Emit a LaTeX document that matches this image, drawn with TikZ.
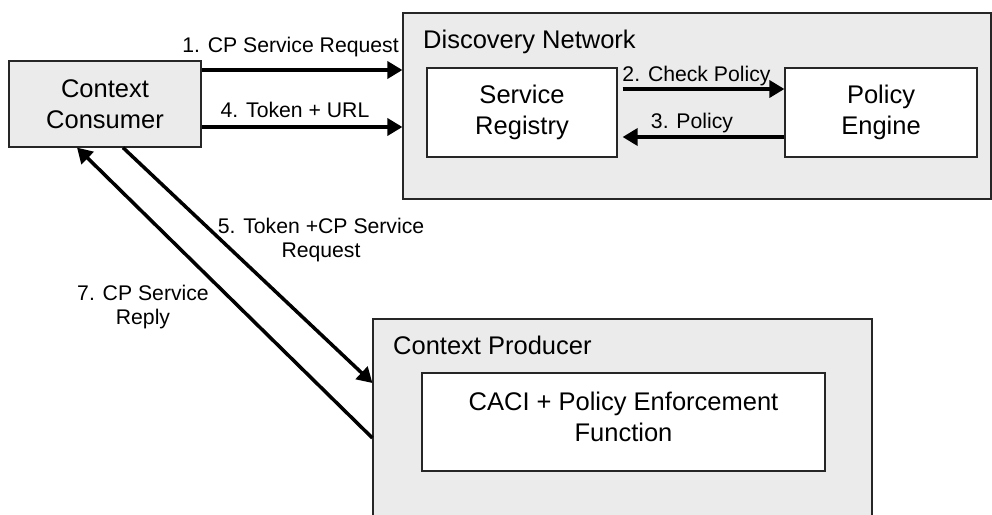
\documentclass[tikz,border=0pt]{standalone}
\usepackage{fontspec}
\setmainfont{Liberation Sans}
\usetikzlibrary{arrows.meta}
\definecolor{boxgray}{HTML}{EBEBEB}
\begin{document}
\begin{tikzpicture}[x=1pt,y=-1pt,
  graybox/.style={draw=black!85, line width=1.2pt, fill=boxgray, inner sep=0pt},
  whitebox/.style={draw=black!85, line width=1.2pt, fill=white, align=center, font=\fontsize{25.5}{30.5}\selectfont, inner sep=0pt},
  boxtext/.style={align=center, font=\fontsize{25.5}{30.5}\selectfont},
  lbl/.style={font=\fontsize{21.2}{24.5}\selectfont, align=center, inner sep=0pt},
  title/.style={font=\fontsize{25.5}{30.5}\selectfont, inner sep=0pt, anchor=base west},
  arr/.style={line width=3.5pt, -{Triangle[length=15pt,width=17pt]}},
]
\useasboundingbox (0,0) rectangle (992,514);

% containers
\node[graybox, minimum width=588pt, minimum height=186pt] (DN) at (697,106) {};
\node[title] (DNt) at (423,48) {Discovery Network};
\node[graybox, minimum width=499pt, minimum height=202pt] (CP) at (622.5,420) {};
\node[title] (CPt) at (393,354) {Context Producer};

% boxes
\node[graybox, boxtext, minimum width=192pt, minimum height=86pt] (CC) at (105,104) {Context\\Consumer};
\node[whitebox, minimum width=190pt, minimum height=89pt] (SR) at (522,112.5) {Service\\Registry};
\node[whitebox, minimum width=192pt, minimum height=89pt] (PE) at (881,112.5) {Policy\\Engine};
\node[whitebox, minimum width=403pt, minimum height=98pt, text depth=10pt] (CACI) at (623.5,422) {CACI + Policy Enforcement\\Function};

% connectors
\draw[arr] ([yshift=34pt]CC.east) -- ([yshift=34pt]CC.east -| DN.west);
\draw[arr] ([yshift=-23pt]CC.east) -- ([yshift=-23pt]CC.east -| DN.west);
\draw[arr] ([xshift=5pt,yshift=23.5pt]SR.east) -- ([yshift=23.5pt]SR.east -| PE.west);
\draw[arr] ([yshift=-24.5pt]PE.west) -- ([xshift=5pt,yshift=-24.5pt]PE.west -| SR.east);
\draw[arr] ([xshift=18pt]CC.south) -- ([yshift=37pt]CP.west);
\draw[arr] ([yshift=-18pt]CP.west) -- ([xshift=-28pt]CC.south);

% labels
\node[lbl, anchor=base] (l1) at (290.5,52) {1. CP Service Request};
\node[lbl, anchor=base] (l4) at (295,117) {4. Token + URL};
\node[lbl, anchor=base] (l2) at (696.5,81) {2. Check Policy};
\node[lbl, anchor=base] (l3) at (692,128) {3. Policy};
\node[lbl] (l5) at (321,240) {5. Token +CP Service\\Request};
\node[lbl] (l7) at (143,307) {7. CP Service\\Reply};
\end{tikzpicture}
\end{document}
